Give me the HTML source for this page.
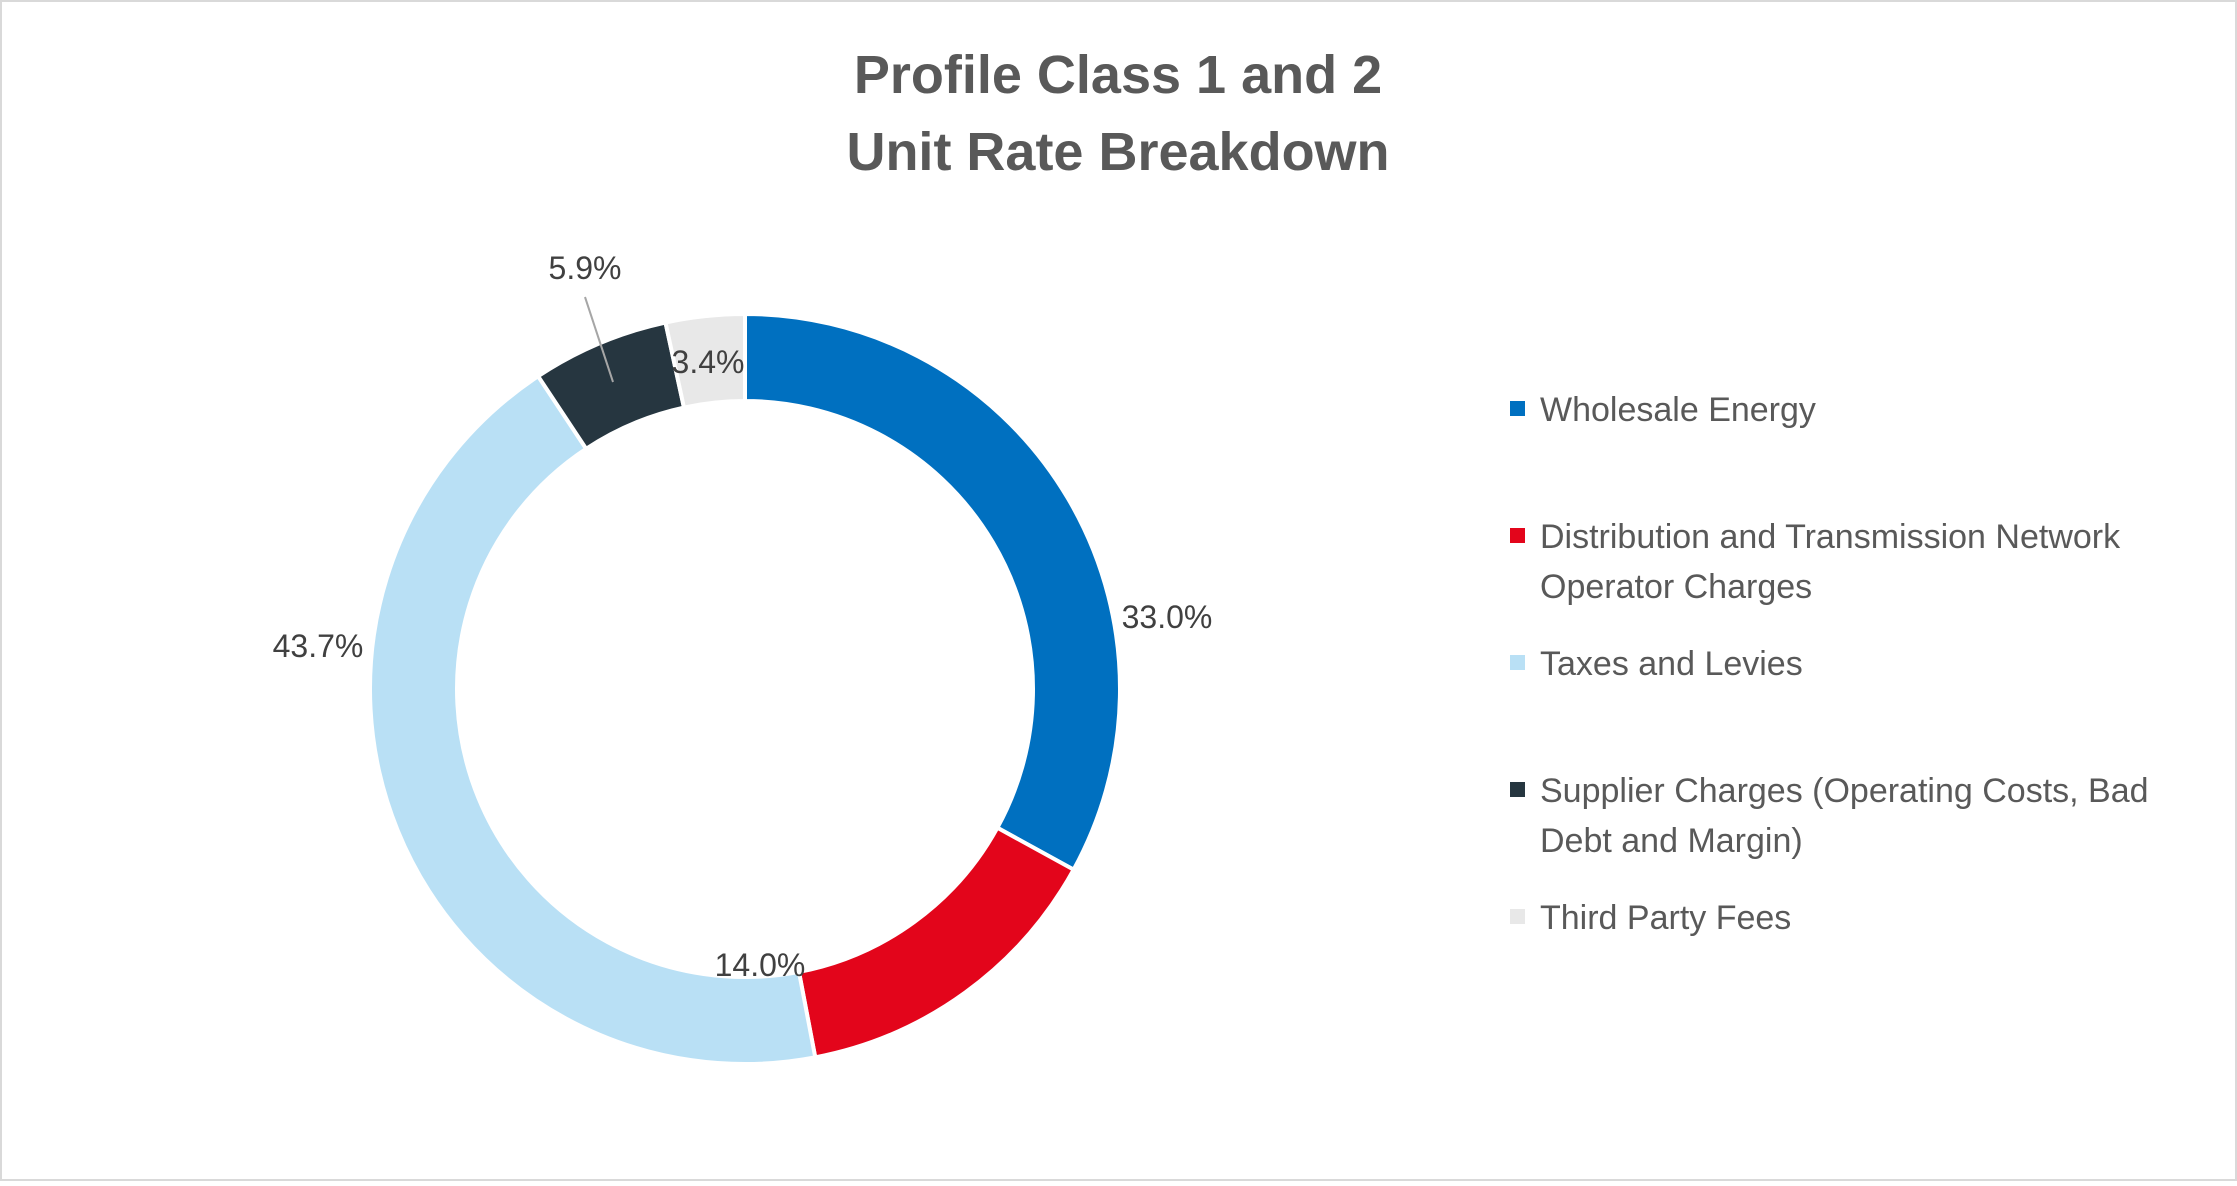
<!DOCTYPE html>
<html><head><meta charset="utf-8"><style>
body{margin:0;background:#fff;}
svg text{font-family:"Liberation Sans",sans-serif;}
</style></head><body>
<svg id="chart" width="2237" height="1181" viewBox="0 0 2237 1181" xmlns="http://www.w3.org/2000/svg">
<rect x="1" y="1" width="2235" height="1179" fill="#fff" stroke="#d9d9d9" stroke-width="2"/>
<text x="1118" y="93" text-anchor="middle" font-size="54" font-weight="bold" fill="#595959">Profile Class 1 and 2</text>
<text x="1118" y="170" text-anchor="middle" font-size="54" font-weight="bold" fill="#595959">Unit Rate Breakdown</text>
<g id="slices"></g>
<g id="labels"></g>
<g id="legend"></g>
</svg>
<script>
const categories=["Wholesale Energy","Distribution and Transmission Network|Operator Charges","Taxes and Levies","Supplier Charges (Operating Costs, Bad|Debt and Margin)","Third Party Fees"];
const values=[33.0,14.0,43.7,5.9,3.4];
const valueLabels=["33.0%","14.0%","43.7%","5.9%","3.4%"];
const colors=["#0070C0","#E3051B","#B9E0F5","#263640","#E8E8E8"];
const NS="http://www.w3.org/2000/svg";
const cx=745,cy=689,R=375,r=288;
const total=values.reduce((a,b)=>a+b,0);
function pt(a,rad){return [cx+rad*Math.sin(a),cy-rad*Math.cos(a)];}
const sg=document.getElementById('slices'),lg=document.getElementById('labels'),leg=document.getElementById('legend');
let acc=0;
const labelPos=[[1167,628],[760,976],[318,657],[585,279],[708,373]];
values.forEach((v,i)=>{
  const a0=acc/total*2*Math.PI;acc+=v;const a1=acc/total*2*Math.PI;
  const large=(a1-a0)>Math.PI?1:0;
  const [x0,y0]=pt(a0,R),[x1,y1]=pt(a1,R),[x2,y2]=pt(a1,r),[x3,y3]=pt(a0,r);
  const p=document.createElementNS(NS,'path');
  p.setAttribute('d',`M${x0},${y0}A${R},${R} 0 ${large} 1 ${x1},${y1}L${x2},${y2}A${r},${r} 0 ${large} 0 ${x3},${y3}Z`);
  p.setAttribute('fill',colors[i]);p.setAttribute('stroke','#fff');p.setAttribute('stroke-width','4');
  
  
  sg.appendChild(p);
  const t=document.createElementNS(NS,'text');
  t.setAttribute('x',labelPos[i][0]);t.setAttribute('y',labelPos[i][1]);
  t.setAttribute('text-anchor','middle');t.setAttribute('font-size','32');t.setAttribute('fill','#404040');
  t.textContent=valueLabels[i];
  
  
  lg.appendChild(t);
});
const ln=document.createElementNS(NS,'line');
ln.setAttribute('x1',585);ln.setAttribute('y1',297);ln.setAttribute('x2',613);ln.setAttribute('y2',382);
ln.setAttribute('stroke','#a6a6a6');ln.setAttribute('stroke-width','2');


lg.appendChild(ln);
const legY=[409,536,663,790,917];
categories.forEach((c,i)=>{
  const g=document.createElementNS(NS,'g');
  
  
  const s=document.createElementNS(NS,'rect');
  s.setAttribute('x',1510);s.setAttribute('y',legY[i]-8);s.setAttribute('width',15);s.setAttribute('height',15);s.setAttribute('fill',colors[i]);
  g.appendChild(s);
  c.split('|').forEach((line,j)=>{
    const t=document.createElementNS(NS,'text');
    t.setAttribute('x',1540);t.setAttribute('y',legY[i]+12+j*50);
    t.setAttribute('font-size','34');t.setAttribute('fill','#595959');
    t.textContent=line;g.appendChild(t);
  });
  leg.appendChild(g);
});
</script>
</body></html>
